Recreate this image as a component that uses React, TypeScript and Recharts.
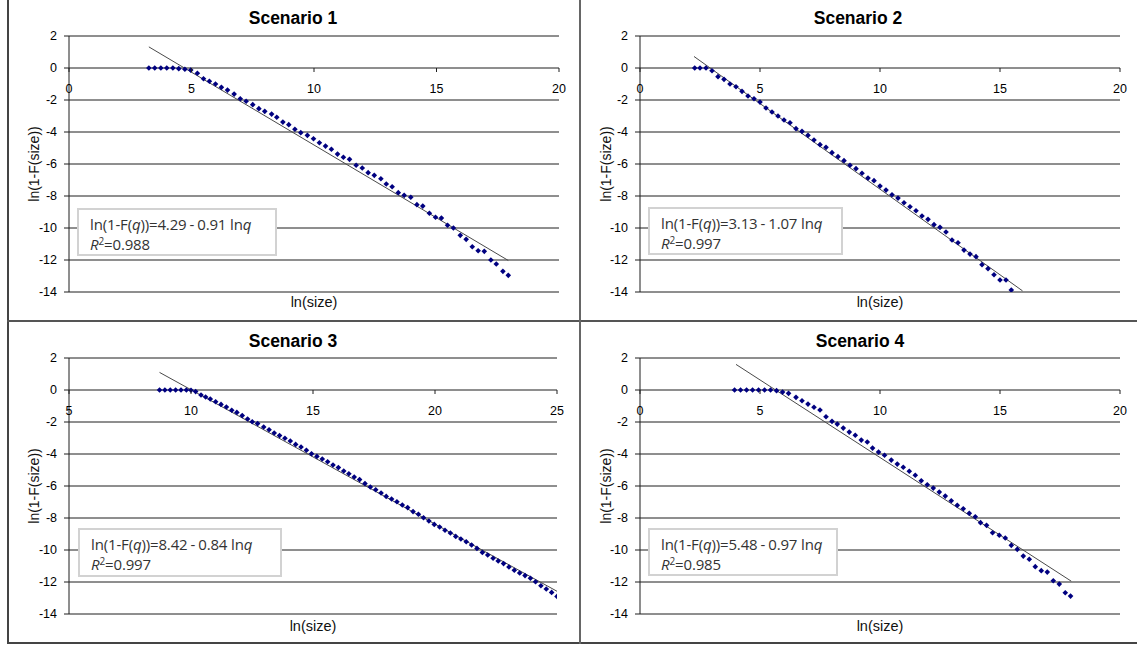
import React from 'react';
import { ScatterChart, Scatter, XAxis, YAxis, CartesianGrid, ReferenceLine, ReferenceDot } from 'recharts';

// ---------- data ----------
const yTicks = [-14, -12, -10, -8, -6, -4, -2, 0, 2];
const xTicksA = [0, 5, 10, 15, 20];
const xTicksB = [5, 10, 15, 20, 25];

const titles = ['Scenario 1', 'Scenario 2', 'Scenario 3', 'Scenario 4'];
const eqIntercepts = ['4.29', '3.13', '8.42', '5.48'];
const eqSlopes = ['0.91', '1.07', '0.84', '0.97'];
const r2Values = ['0.988', '0.997', '0.997', '0.985'];

const s1X = [3.26,3.50,3.75,3.99,4.24,4.48,4.73,4.97,5.24,5.49,5.73,5.98,6.22,6.47,6.74,6.99,7.23,7.50,7.75,7.99,8.27,8.48,8.73,8.97,9.22,9.46,9.73,9.98,10.22,10.47,10.71,10.96,11.20,11.45,11.72,11.97,12.21,12.46,12.73,12.95,13.19,13.44,13.68,13.95,14.20,14.44,14.71,14.96,15.20,15.45,15.69,15.97,16.21,16.46,16.70,16.95,17.22,17.44,17.71,17.93];
const s1Y = [0,0,0,0,0,-0.04,-0.08,-0.13,-0.33,-0.67,-0.83,-1.0,-1.21,-1.38,-1.63,-1.92,-2.08,-2.29,-2.54,-2.71,-2.88,-3.08,-3.38,-3.54,-3.83,-4.04,-4.21,-4.42,-4.67,-4.88,-5.08,-5.38,-5.58,-5.71,-6.08,-6.25,-6.54,-6.71,-6.92,-7.25,-7.42,-7.79,-7.96,-8.08,-8.54,-8.63,-9.08,-9.33,-9.38,-9.83,-10.0,-10.46,-10.71,-11.17,-11.42,-11.46,-12.0,-12.25,-12.71,-12.96];

const s2X = [2.28,2.50,2.75,3.0,3.25,3.5,3.75,4.0,4.25,4.5,4.75,5.0,5.25,5.5,5.75,6.0,6.25,6.5,6.75,7.0,7.25,7.5,7.75,8.0,8.25,8.5,8.75,9.0,9.25,9.5,9.75,10.0,10.25,10.5,10.75,11.0,11.25,11.5,11.75,12.0,12.25,12.5,12.75,13.0,13.25,13.5,13.75,14.0,14.25,14.5,14.75,15.0,15.25,15.47];
const s2Y = [0,0,0,-0.17,-0.54,-0.71,-1.0,-1.17,-1.46,-1.75,-1.92,-2.13,-2.5,-2.75,-3.0,-3.25,-3.42,-3.79,-3.96,-4.21,-4.5,-4.79,-4.96,-5.29,-5.54,-5.79,-6.08,-6.29,-6.58,-6.88,-7.04,-7.38,-7.63,-7.92,-8.13,-8.42,-8.67,-8.92,-9.25,-9.46,-9.79,-9.96,-10.25,-10.75,-10.92,-11.38,-11.63,-11.79,-12.29,-12.54,-12.92,-13.25,-13.25,-13.88];

const s3X = [8.71,8.93,9.15,9.37,9.59,9.81,10.0,10.19,10.41,10.60,10.79,11.01,11.23,11.45,11.67,11.88,12.10,12.32,12.51,12.73,12.98,13.20,13.41,13.63,13.85,14.07,14.29,14.51,14.73,14.94,15.16,15.38,15.60,15.82,16.04,16.26,16.47,16.69,16.91,17.13,17.35,17.57,17.79,18.00,18.22,18.44,18.66,18.88,19.10,19.32,19.53,19.75,19.97,20.19,20.41,20.63,20.85,21.06,21.28,21.50,21.72,21.94,22.16,22.38,22.59,22.81,23.03,23.25,23.47,23.69,23.91,24.12,24.34,24.56,24.78,25.0];
const s3Y = [0,0,0,0,0,0,-0.02,-0.10,-0.31,-0.44,-0.56,-0.73,-0.90,-1.06,-1.27,-1.40,-1.60,-1.81,-1.98,-2.10,-2.31,-2.48,-2.69,-2.85,-3.02,-3.19,-3.40,-3.56,-3.77,-3.98,-4.15,-4.31,-4.48,-4.69,-4.85,-5.06,-5.23,-5.44,-5.60,-5.85,-6.06,-6.23,-6.44,-6.65,-6.81,-6.98,-7.19,-7.35,-7.60,-7.77,-7.98,-8.19,-8.40,-8.56,-8.77,-8.94,-9.15,-9.31,-9.48,-9.69,-9.90,-10.15,-10.31,-10.52,-10.69,-10.85,-11.06,-11.27,-11.44,-11.60,-11.77,-11.98,-12.23,-12.44,-12.65,-12.90];

const s4X = [3.94,4.19,4.44,4.69,4.94,5.19,5.44,5.69,5.94,6.19,6.50,6.75,7.0,7.25,7.50,7.75,8.0,8.22,8.47,8.72,8.97,9.22,9.47,9.69,9.94,10.19,10.47,10.72,10.97,11.22,11.47,11.72,11.97,12.22,12.47,12.72,12.97,13.22,13.47,13.72,13.97,14.19,14.44,14.69,14.97,15.22,15.47,15.72,15.97,16.22,16.47,16.72,16.97,17.22,17.47,17.72,17.94];
const s4Y = [0,0,0,0,0,0,0,-0.04,-0.13,-0.21,-0.46,-0.67,-0.88,-1.08,-1.25,-1.67,-1.96,-2.13,-2.38,-2.63,-2.83,-3.13,-3.25,-3.63,-3.88,-4.08,-4.38,-4.63,-4.83,-5.08,-5.33,-5.67,-5.92,-6.13,-6.38,-6.63,-6.92,-7.21,-7.42,-7.71,-7.92,-8.29,-8.46,-8.92,-9.08,-9.25,-9.71,-9.96,-10.38,-10.58,-11.04,-11.29,-11.38,-11.92,-12.13,-12.67,-12.88];

// trend line end points [x, y]
const trend1 = [[3.26, 1.32], [17.93, -12.03]];
const trend2 = [[2.25, 0.72], [15.94, -13.93]];
const trend3 = [[8.71, 1.10], [25.0, -12.58]];
const trend4 = [[4.0, 1.6], [17.97, -11.95]];

// ---------- layout ----------
const panels = [
  { xs: s1X, ys: s1Y, trend: trend1, xDomain: [0, 20], xTicks: xTicksA,
    left: 0, top: 0, w: 578, h: 320, m: { top: 36, right: 19, bottom: 28, left: 29 },
    title: [293, 18], ylab: [34, 164], xlab: [314, 302], box: [77, 208, 200, 48] },
  { xs: s2X, ys: s2Y, trend: trend2, xDomain: [0, 20], xTicks: xTicksA,
    left: 578, top: 0, w: 559, h: 320, m: { top: 36, right: 17, bottom: 28, left: 22 },
    title: [858, 18], ylab: [606, 164], xlab: [880, 302], box: [648, 207, 195, 48] },
  { xs: s3X, ys: s3Y, trend: trend3, xDomain: [5, 25], xTicks: xTicksB,
    left: 0, top: 320, w: 578, h: 324, m: { top: 38, right: 21, bottom: 30, left: 29 },
    title: [293, 341], ylab: [34, 486], xlab: [313, 626], box: [78, 528, 204, 49] },
  { xs: s4X, ys: s4Y, trend: trend4, xDomain: [0, 20], xTicks: xTicksA,
    left: 578, top: 320, w: 559, h: 324, m: { top: 38, right: 17, bottom: 30, left: 22 },
    title: [860, 341], ylab: [606, 486], xlab: [880, 626], box: [648, 528, 190, 48] },
];

const LINE = '#1e1e1e';
const FONT = "Arial, 'Liberation Sans'";

const Diamond = (props: any) => {
  const { cx, cy } = props;
  if (cx == null || cy == null) return null;
  const r = 2.8;
  return <path d={`M${cx},${cy - r}L${cx + r},${cy}L${cx},${cy + r}L${cx - r},${cy}Z`} fill="#000080" />;
};

const makeXTick = (label: number) => (props: any) => {
  const { cx, cy } = props;
  return (
    <g>
      <line x1={cx} y1={cy} x2={cx} y2={cy + 4} stroke={LINE} strokeWidth={1} />
      <text x={cx} y={cy + 24.5} textAnchor="middle" fontSize={12.5} fontFamily={FONT} fill="#000">{label}</text>
    </g>
  );
};

function Panel({ p }: { p: any }) {
  const pts = p.xs.map((x: number, k: number) => ({ x, y: p.ys[k] }));
  return (
    <div style={{ position: 'absolute', left: p.left, top: p.top, width: p.w, height: p.h }}>
      <ScatterChart width={p.w} height={p.h} margin={p.m}>
        <CartesianGrid vertical={false} stroke={LINE} strokeWidth={1} />
        <XAxis type="number" dataKey="x" domain={p.xDomain} ticks={p.xTicks} hide allowDataOverflow />
        <YAxis
          type="number"
          dataKey="y"
          domain={[-14, 2]}
          ticks={yTicks}
          interval={0}
          width={40}
          allowDataOverflow
          axisLine={{ stroke: LINE, strokeWidth: 1 }}
          tickLine={{ stroke: LINE, strokeWidth: 1 }}
          tickSize={5}
          tickMargin={7}
          tick={{ fill: '#000', fontSize: 12.5, fontFamily: FONT }}
        />
        <Scatter data={pts} shape={Diamond} isAnimationActive={false} />
        <ReferenceLine
          segment={[{ x: p.trend[0][0], y: p.trend[0][1] }, { x: p.trend[1][0], y: p.trend[1][1] }]}
          stroke="#4a4a4a"
          strokeWidth={1}
          ifOverflow="visible"
        />
        {p.xTicks.map((t: number) => (
          <ReferenceDot key={t} x={t} y={0} r={0} ifOverflow="visible" shape={makeXTick(t)} />
        ))}
      </ScatterChart>
    </div>
  );
}

const center: React.CSSProperties = { position: 'absolute', transform: 'translate(-50%, -50%)', whiteSpace: 'nowrap' };

export default function App() {
  return (
    <div style={{ position: 'absolute', left: 0, top: 0, width: 1137, height: 648, background: '#fff', overflow: 'hidden' }}>
      {panels.map((p, i) => <Panel key={i} p={p} />)}

      {/* frame */}
      <div style={{ position: 'absolute', left: 7, top: 0, width: 2, height: 644, background: '#444' }} />
      <div style={{ position: 'absolute', left: 7, top: 642, width: 1130, height: 2, background: '#444' }} />
      <div style={{ position: 'absolute', left: 7, top: 320, width: 1130, height: 2, background: '#555' }} />
      <div style={{ position: 'absolute', left: 579, top: 0, width: 2, height: 644, background: '#666' }} />

      {panels.map((p, i) => (
        <React.Fragment key={'t' + i}>
          <div style={{ ...center, left: p.title[0], top: p.title[1], fontFamily: FONT, fontWeight: 'bold', fontSize: 17.5, color: '#000' }}>{titles[i]}</div>
          <div style={{ ...center, left: p.ylab[0], top: p.ylab[1], transform: 'translate(-50%, -50%) rotate(-90deg)', fontFamily: FONT, fontSize: 14, color: '#111' }}>ln(1-F(size))</div>
          <div style={{ ...center, left: p.xlab[0], top: p.xlab[1], fontFamily: FONT, fontSize: 14.5, color: '#111' }}>ln(size)</div>
          <div style={{ position: 'absolute', left: p.box[0], top: p.box[1], width: p.box[2], height: p.box[3], boxSizing: 'border-box', border: '2px solid #d2d2d2', background: '#fff', padding: '4px 0 0 11px', fontFamily: "'Open Sans'", fontSize: 15, lineHeight: '20px', color: '#333', letterSpacing: '-0.15px' }}>
            <div style={{ height: 20 }}>ln(1-F(<i>q</i>))={eqIntercepts[i]}<span style={{ margin: '0 3px' }}>-</span>{eqSlopes[i]} ln<i>q</i></div>
            <div style={{ height: 20 }}><i>R</i><sup style={{ fontSize: 10, lineHeight: 0, verticalAlign: '5px' }}>2</sup>={r2Values[i]}</div>
          </div>
        </React.Fragment>
      ))}
    </div>
  );
}
